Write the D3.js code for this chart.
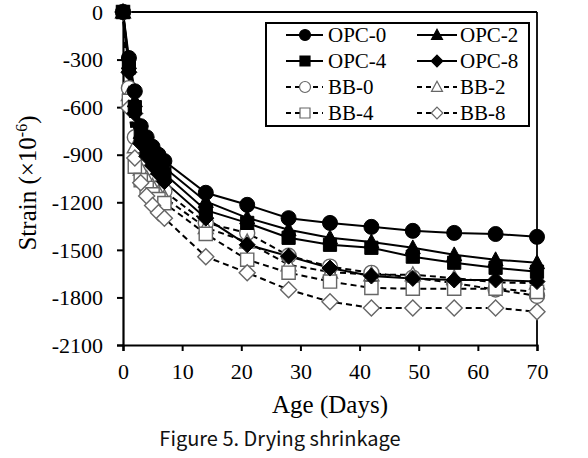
<!DOCTYPE html>
<html><head><meta charset="utf-8">
<script src="https://cdn.jsdelivr.net/npm/d3@7"></script>
<style>body{margin:0;background:#fff}svg{display:block}</style>
</head><body>
<svg id="c" width="588" height="458"></svg>
<script>
const days = [0,1,2,3,4,5,6,7,14,21,28,35,42,49,56,63,70];
const opc0 = [0,-290,-500,-720,-790,-850,-900,-940,-1140,-1216,-1300,-1330,-1355,-1380,-1393,-1400,-1418];
const opc2 = [0,-320,-560,-760,-830,-890,-940,-980,-1195,-1298,-1373,-1424,-1450,-1487,-1531,-1562,-1581];
const opc4 = [0,-350,-600,-790,-860,-920,-975,-1020,-1250,-1330,-1424,-1468,-1487,-1543,-1581,-1613,-1638];
const opc8 = [0,-380,-640,-830,-910,-970,-1020,-1070,-1300,-1468,-1540,-1615,-1665,-1680,-1690,-1690,-1700];
const bb0  = [0,-480,-790,-950,-1010,-1070,-1110,-1130,-1330,-1393,-1537,-1606,-1645,-1675,-1710,-1750,-1790];
const bb2  = [0,-520,-850,-990,-1050,-1100,-1140,-1170,-1360,-1450,-1594,-1640,-1657,-1657,-1678,-1705,-1710];
const bb4  = [0,-560,-975,-1060,-1110,-1150,-1180,-1205,-1399,-1562,-1644,-1700,-1740,-1745,-1745,-1745,-1765];
const bb8  = [0,-605,-920,-1077,-1160,-1220,-1266,-1300,-1543,-1644,-1751,-1827,-1866,-1866,-1866,-1866,-1890];
const xTicks = [0,10,20,30,40,50,60,70];
const yTicks = [0,-300,-600,-900,-1200,-1500,-1800,-2100];

const series = [
  {name:"OPC-0", values:opc0, shape:"circle", fill:true},
  {name:"OPC-2", values:opc2, shape:"triangle", fill:true},
  {name:"OPC-4", values:opc4, shape:"square", fill:true},
  {name:"OPC-8", values:opc8, shape:"diamond", fill:true},
  {name:"BB-0", values:bb0, shape:"circle", fill:false},
  {name:"BB-2", values:bb2, shape:"triangle", fill:false},
  {name:"BB-4", values:bb4, shape:"square", fill:false},
  {name:"BB-8", values:bb8, shape:"diamond", fill:false}
];

const svg = d3.select("#c");
const L=123, R=537, T=12, B=345;
const x = d3.scaleLinear().domain([0,70]).range([L,R]);
const y = d3.scaleLinear().domain([0,-2100]).range([T,B]);
const serif = "'Liberation Serif','Times New Roman',serif";

// custom symbol paths; r = half-extent
function sym(shape, r){
  if(shape==="circle") return d3.symbol().type(d3.symbolCircle).size(Math.PI*r*r)();
  if(shape==="square") return `M${-r},${-r}H${r}V${r}H${-r}Z`;
  if(shape==="diamond") return `M0,${-r}L${r},0L0,${r}L${-r},0Z`;
  if(shape==="triangle") return `M0,${-r*1.05}L${r},${r*0.8}L${-r},${r*0.8}Z`;
}
const rMain = {circle:7.5, triangle:7.5, square:6.6, diamond:8};
const rLeg = {circle:5.5, triangle:5.5, square:5, diamond:5.8};

// frame top and right
svg.append("line").attr("x1",L).attr("x2",R).attr("y1",T).attr("y2",T).attr("stroke","#000").attr("stroke-width",1.8);
svg.append("line").attr("x1",R).attr("x2",R).attr("y1",T).attr("y2",B).attr("stroke","#000").attr("stroke-width",1.8);

// axes
const gx = svg.append("g").attr("transform",`translate(0,${B})`)
  .call(d3.axisBottom(x).tickValues(xTicks).tickSize(6).tickPadding(12).tickFormat(d3.format("d")));
const gy = svg.append("g").attr("transform",`translate(${L},0)`)
  .call(d3.axisLeft(y).tickValues(yTicks).tickSize(6).tickPadding(14).tickFormat(d=>String(d)));
[gx,gy].forEach(g=>{
  g.select(".domain").attr("stroke","#000").attr("stroke-width",2.2);
  g.selectAll(".tick line").attr("stroke","#000").attr("stroke-width",2);
  g.selectAll("text").attr("font-family",serif).attr("font-size",22).attr("fill","#000");
});
gy.selectAll("text").attr("dy","0.33em");

// lines
const line = d3.line().x((d,i)=>x(days[i])).y(d=>y(d));
const order = [4,5,6,7,0,1,2,3];
order.forEach(k=>{
  const s = series[k];
  svg.append("path").attr("d",line(s.values)).attr("fill","none")
    .attr("stroke", "#000").attr("stroke-width",2)
    .attr("stroke-dasharray", s.fill ? null : "6,4");
});
order.forEach(k=>{
  const s = series[k];
  svg.append("g").selectAll("path").data(s.values).join("path")
    .attr("transform",(d,i)=>`translate(${x(days[i])},${y(d)})`)
    .attr("d", sym(s.shape, rMain[s.shape]))
    .attr("fill", s.fill ? "#000" : "#fff")
    .attr("stroke", s.fill ? "#000" : "#666")
    .attr("stroke-width", s.fill ? 1 : 1.4);
});

// legend
svg.append("rect").attr("x",266).attr("y",23).attr("width",263).attr("height",103)
  .attr("fill","#fff").attr("stroke","#000").attr("stroke-width",2);
const rowsY = [35,61,87,113];
const cols = [{x1:286,x2:323,mx:305,tx:328},{x1:417,x2:457,mx:437,tx:460}];
series.forEach((s,i)=>{
  const c = cols[i%2], ry = rowsY[Math.floor(i/2)];
  svg.append("line").attr("x1",c.x1).attr("x2",c.x2).attr("y1",ry).attr("y2",ry)
    .attr("stroke","#000").attr("stroke-width",2).attr("stroke-dasharray", s.fill?null:"5,4");
  svg.append("path").attr("transform",`translate(${c.mx},${ry})`).attr("d",sym(s.shape,rLeg[s.shape]))
    .attr("fill", s.fill?"#000":"#fff").attr("stroke", s.fill?"#000":"#666").attr("stroke-width",1.2);
  svg.append("text").attr("x",c.tx).attr("y",ry).attr("dy","0.35em")
    .attr("font-family",serif).attr("font-size",21).text(s.name);
});

// axis titles
svg.append("text").attr("x",(L+R)/2).attr("y",413).attr("text-anchor","middle")
  .attr("font-family",serif).attr("font-size",25).text("Age (Days)");
const yl = svg.append("text").attr("transform","translate(36,183) rotate(-90)").attr("text-anchor","middle")
  .attr("font-family",serif).attr("font-size",25);
yl.append("tspan").text("Strain (×10");
yl.append("tspan").attr("font-size",16).attr("dy","-9").text("-6");
yl.append("tspan").attr("dy","9").text(")");

svg.append("text").attr("x",280).attr("y",446).attr("text-anchor","middle")
  .attr("font-family","'Noto Sans CJK KR','Noto Sans',sans-serif").attr("font-size",20).attr("fill","#111")
  .text("Figure 5. Drying shrinkage");
</script>
</body></html>
